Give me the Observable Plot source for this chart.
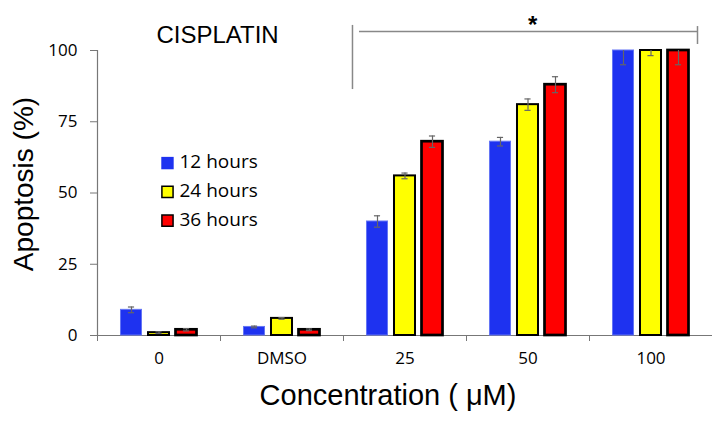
<!DOCTYPE html>
<html>
<head>
<meta charset="utf-8">
<script src="https://cdn.jsdelivr.net/npm/d3@7"></script>
<script src="https://cdn.jsdelivr.net/npm/@observablehq/plot@0.6"></script>
<style>
  html, body { margin: 0; padding: 0; background: #fff; }
  #chart svg [aria-label*="axis"] line,
  #chart svg [aria-label*="axis"] path { stroke: #777; }
</style>
</head>
<body>
<div id="chart"></div>
<script>
// ---- data ----
const categories = ["0", "DMSO", "25", "50", "100"];
const series = ["12 hours", "24 hours", "36 hours"];
const values12 = [9, 3, 40, 68, 100];
const values24 = [1, 6, 56, 81, 100];
const values36 = [2, 2, 68, 88, 100];
const err12 = [1, 0.3, 2, 1.5, 5];
const err24 = [0.3, 0.3, 1, 2, 1.8];
const err36 = [0.4, 0.3, 2, 2.8, 5];
const yTicks = [0, 25, 50, 75, 100];
const chartTitle = "CISPLATIN";
const yTitle = "Apoptosis (%)";
const xTitle = "Concentration ( \u03bcM)";
const significance = "*";
// significance bracket spans "25" .. "100" (in category-index units / % units)
const bracketX = [1.573, 1.63, 4.378];
const bracketY = [106.7, 108.8, 86.3, 108.4, 102.1];

// ---- layout / style (not data) ----
const colors = ["#1e32f0", "#ffff00", "#ff0000"];
const strokes = ["#6475f5", "#000", "#000"];
const strokeWidths = [1, 2, 2.7];
const step = 0.2236;      // spacing between bars within a group (category units)
const half = 0.0854;      // half bar width
const capHalf = 0.025;

const valuesBySeries = [values12, values24, values36];
const errBySeries = [err12, err24, err36];
const rows = [];
categories.forEach((cat, i) => {
  series.forEach((s, j) => {
    const v = valuesBySeries[j][i], e = errBySeries[j][i];
    rows.push({cat, i, j, series: s, value: v, lo: v - e, hi: Math.min(100, v + e),
               c: i + (j - 1) * step});
  });
});
const caps = [];
rows.forEach(r => {
  caps.push({c: r.c, y: r.lo});
  if (r.hi < 100) caps.push({c: r.c, y: r.hi});
});

const legendX = 0.069;
const legendY = [60.5, 50.4, 40.3];

const sans = "Liberation Sans, Arial, sans-serif";
const tickFont = "Open Sans, sans-serif";

const marks = [
  // axis lines
  Plot.ruleY([0], {x1: -0.5, x2: 4.5, stroke: "#777", strokeWidth: 1.2}),
  Plot.ruleX([-0.5], {y1: 0, y2: 100, stroke: "#777", strokeWidth: 1.2}),
];
series.forEach((s, j) => {
  marks.push(Plot.rect(rows.filter(r => r.j === j), {
    x1: r => r.c - half, x2: r => r.c + half, y1: 0, y2: "value",
    fill: colors[j], stroke: strokes[j], strokeWidth: strokeWidths[j]
  }));
});
marks.push(
  Plot.ruleX(rows, {x: "c", y1: "lo", y2: "hi", stroke: "#666", strokeWidth: 1.2}),
  Plot.ruleY(caps, {y: "y", x1: d => d.c - capHalf, x2: d => d.c + capHalf, stroke: "#666", strokeWidth: 1.2}),
  // x tick labels
  Plot.text(categories, {x: (d, i) => i, text: d => d, frameAnchor: "bottom", dy: 28,
    fontSize: 17, fontFamily: tickFont, fill: "#000"}),
  // axis titles
  Plot.text([xTitle], {text: d => d, frameAnchor: "bottom", textAnchor: "middle", dx: -17, dy: 69,
    fontSize: 29, fontFamily: sans, fill: "#000"}),
  Plot.text([yTitle], {text: d => d, frameAnchor: "left", textAnchor: "middle", rotate: -90, dx: -73, dy: -9,
    fontSize: 28, fontFamily: sans, fill: "#000"}),
  Plot.text([chartTitle], {text: d => d, frameAnchor: "top-left", textAnchor: "middle", dx: 120, dy: -25,
    fontSize: 24, fontFamily: sans, fill: "#000"}),
  // significance bracket
  Plot.ruleY([bracketY[0]], {x1: bracketX[1], x2: bracketX[2], stroke: "#888", strokeWidth: 1.5}),
  Plot.ruleX([bracketX[0]], {y1: bracketY[1], y2: bracketY[2], stroke: "#888", strokeWidth: 1.5}),
  Plot.ruleX([bracketX[2]], {y1: bracketY[3], y2: bracketY[4], stroke: "#888", strokeWidth: 1.5}),
  Plot.text([significance], {x: (bracketX[1] + bracketX[2]) / 2 + 0.033, y: 108.9, text: d => d,
    fontSize: 24, fontWeight: "bold", fontFamily: sans, fill: "#000"})
);
// legend
series.forEach((s, j) => {
  marks.push(
    Plot.dot([s], {x: legendX, y: legendY[j], symbol: "square", r: j === 0 ? 7 : 6.3,
      fill: colors[j], stroke: j === 0 ? "none" : "#000", strokeWidth: 1.5}),
    Plot.text([s], {x: legendX, y: legendY[j], text: d => d, textAnchor: "start", dx: 12, dy: -1,
      fontSize: 19, fontFamily: tickFont, fill: "#000"})
  );
});

const chart = Plot.plot({
  width: 712,
  height: 422,
  marginLeft: 97,
  marginRight: 0,
  marginTop: 50,
  marginBottom: 87,
  style: {fontFamily: tickFont, fontSize: "17px", color: "#000", background: "#fff", overflow: "visible"},
  x: {type: "linear", domain: [-0.5, 4.5], ticks: [-0.5, 0.5, 1.5, 2.5, 3.5, 4.5],
      tickFormat: () => "", tickSize: 6, label: null},
  y: {domain: [0, 100], ticks: yTicks, tickSize: 7, tickPadding: 13, label: null},
  marks
});
document.getElementById("chart").appendChild(chart);
</script>
</body>
</html>
